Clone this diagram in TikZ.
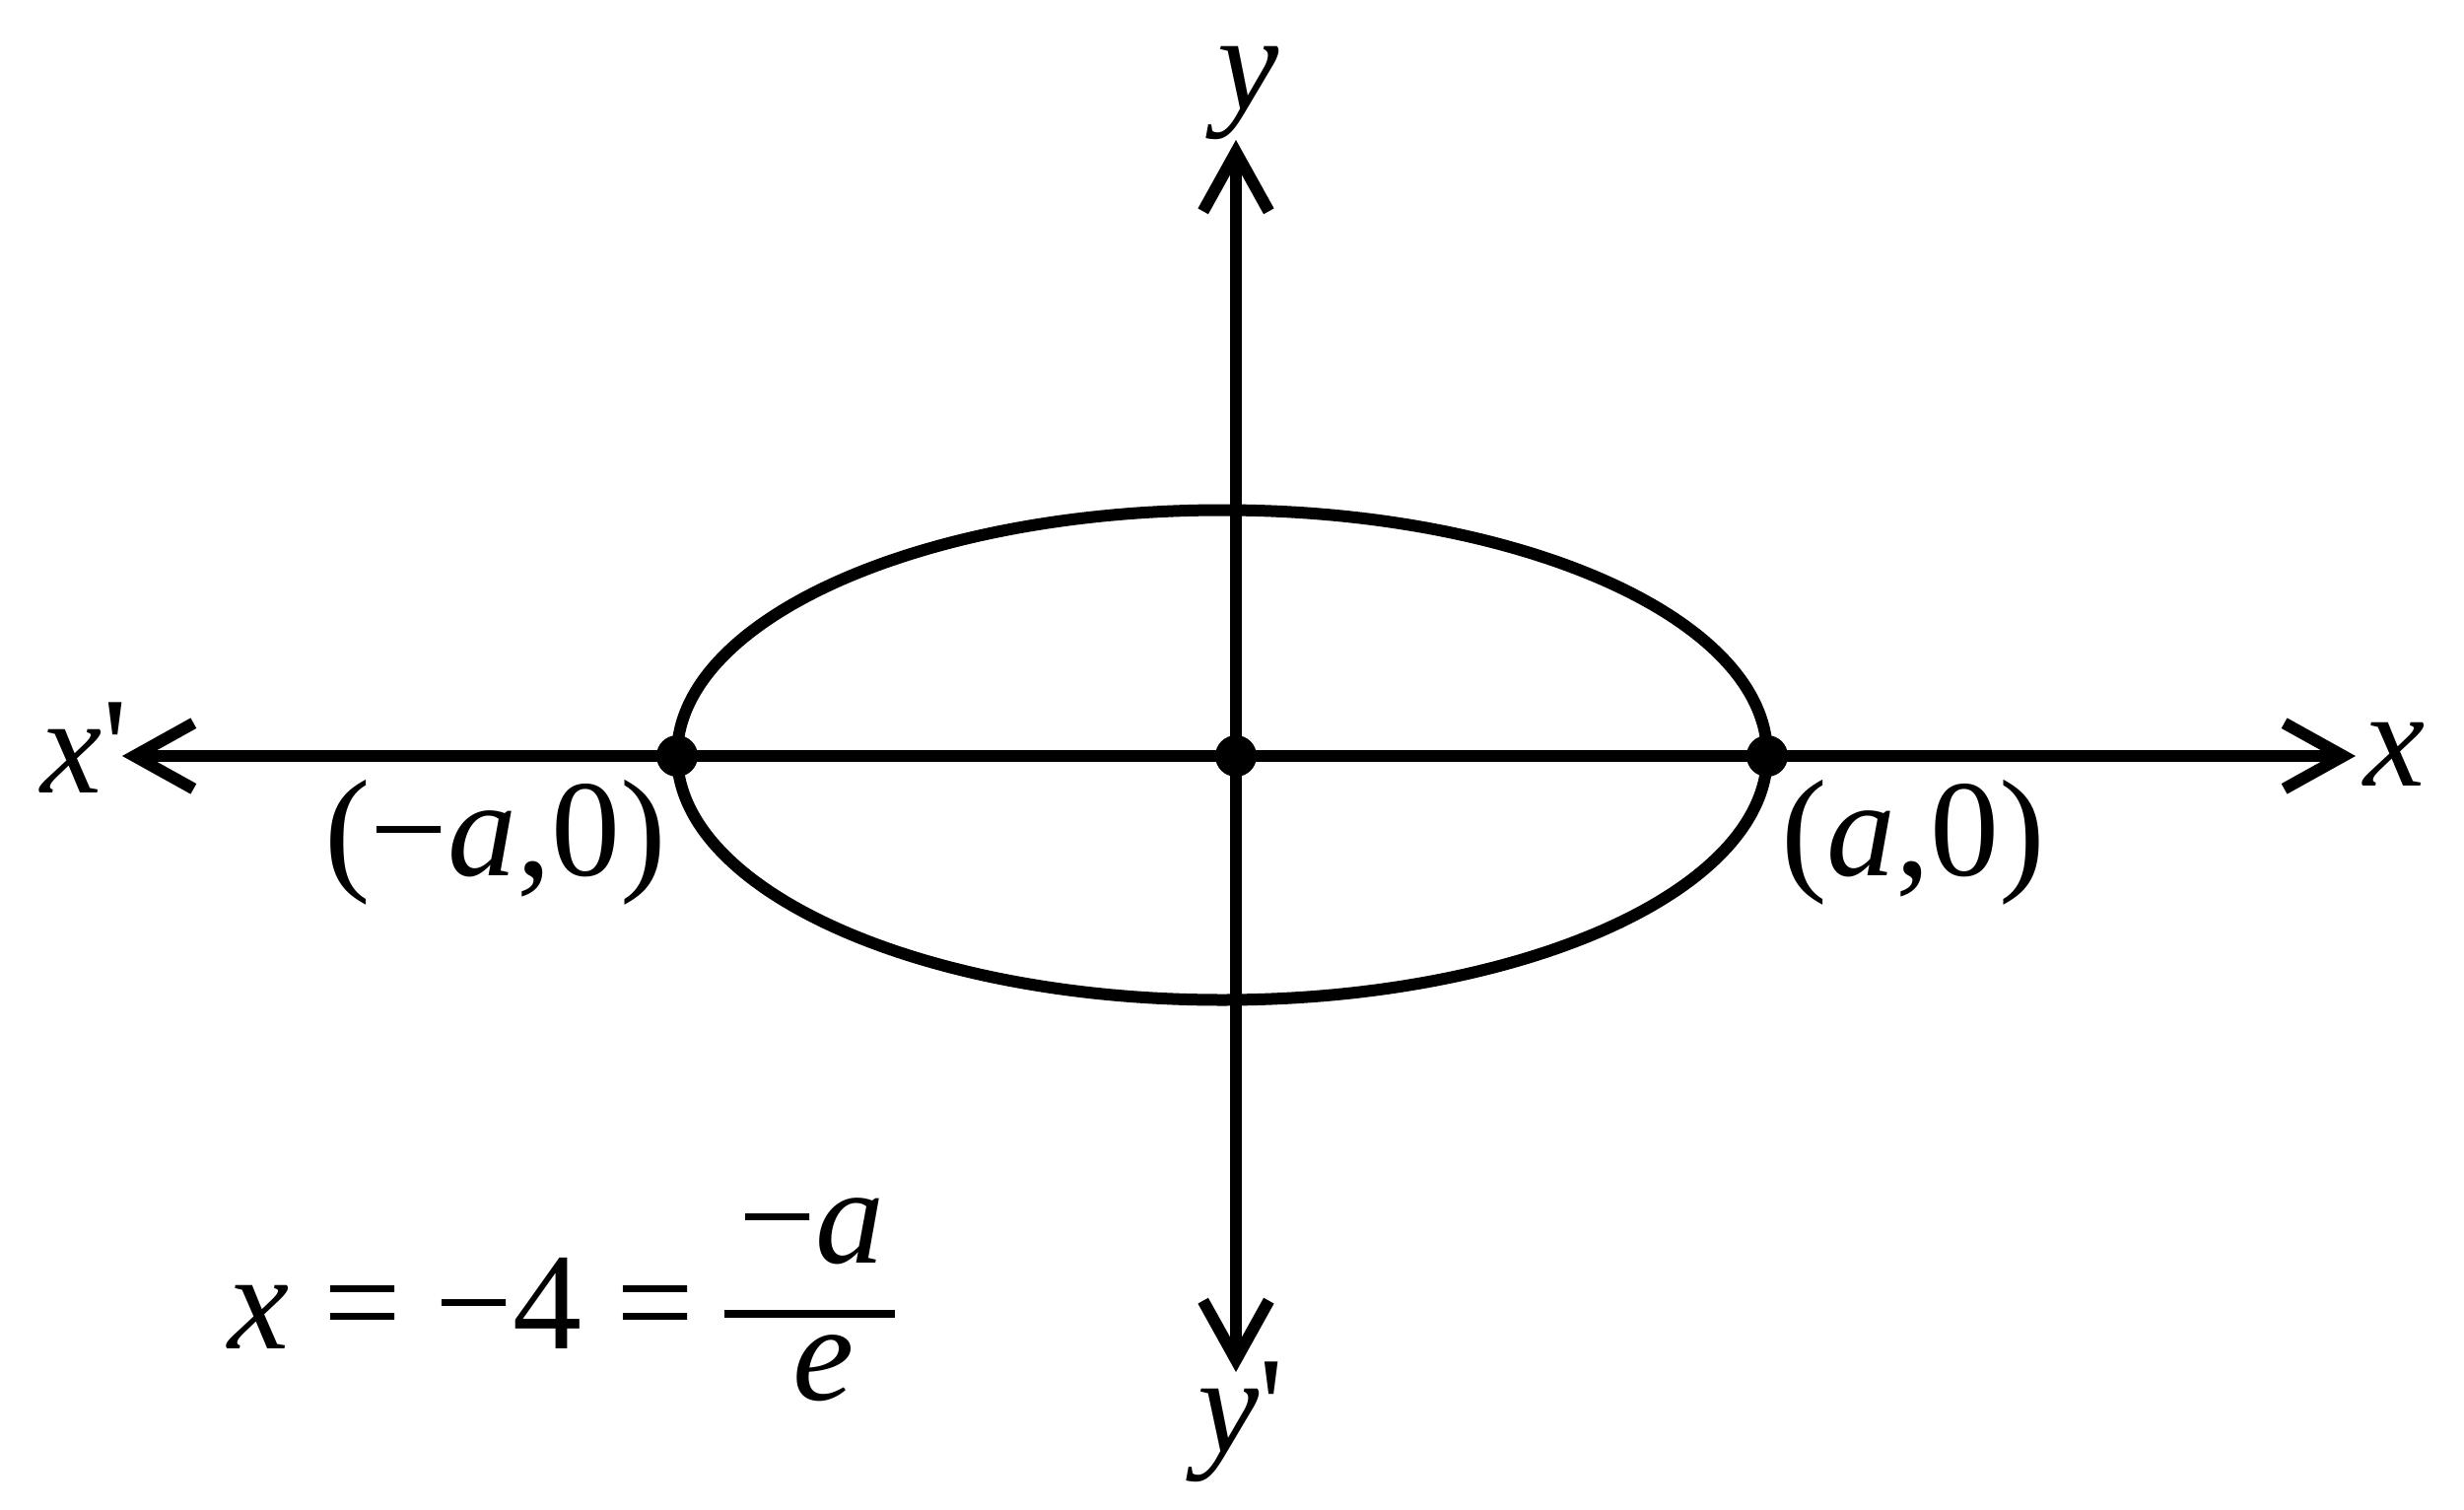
\documentclass[tikz,border=0pt]{standalone}
\usepackage{fontspec}
\setmainfont{Liberation Serif}
\usetikzlibrary{arrows.meta}
\begin{document}
\begin{tikzpicture}[x=0.3pt,y=-0.3pt,
  >={Straight Barb[sharp,length=18pt,width=20pt]},
  ax/.style={line width=3.6pt,<->},
  curve/.style={line width=3.6pt},
  dot/.style={circle,fill=black,inner sep=0pt,minimum size=12.6pt},
  lbl/.style={inner sep=0pt,outer sep=0pt,font=\fontsize{42}{50}\selectfont,anchor=base west},
  bar/.style={line width=2.4pt}
]
\useasboundingbox (0,0) rectangle (2500,1532);
% axes
\coordinate (O) at (1254,767);
\coordinate (xl) at (124,767);
\coordinate (xr) at (2390,767);
\coordinate (yt) at (1254,142);
\coordinate (yb) at (1254,1392);
\draw[ax] (xl) -- (xr);
\draw[ax] (yt) -- (yb);
% ellipse
\coordinate (E) at (1240,766);
\draw[curve] (E) ellipse [x radius=165.9pt, y radius=74.55pt];
% points
\node[dot] (A) at (687,767) {};
\node[dot] (C) at (O) {};
\node[dot] (B) at (1793,767) {};
% labels
\node[lbl] (xp) at (42,804) {\textit{x}\textquotesingle};
\node[lbl] (xlab) at (2398,797) {\textit{x}};
\node[lbl] (ylab) at (1235,111) {\textit{y}};
\node[lbl] (yp) at (1215,1473) {\textit{y}\textquotesingle};
\node[lbl] (am) at (329,888) {(−\textit{a},0)};
\node[lbl] (ap) at (1807,888) {(\textit{a},0)};
% equation
\node[lbl] (eq) at (231,1368) {\textit{x} = −4 =};
\node[lbl] (num) at (749,1281) {−\textit{a}};
\node[lbl] (den) at (804,1420) {\textit{e}};
\coordinate (fb1) at (735,1333);
\coordinate (fb2) at (908,1333);
\draw[bar] (fb1) -- (fb2);
\end{tikzpicture}
\end{document}
